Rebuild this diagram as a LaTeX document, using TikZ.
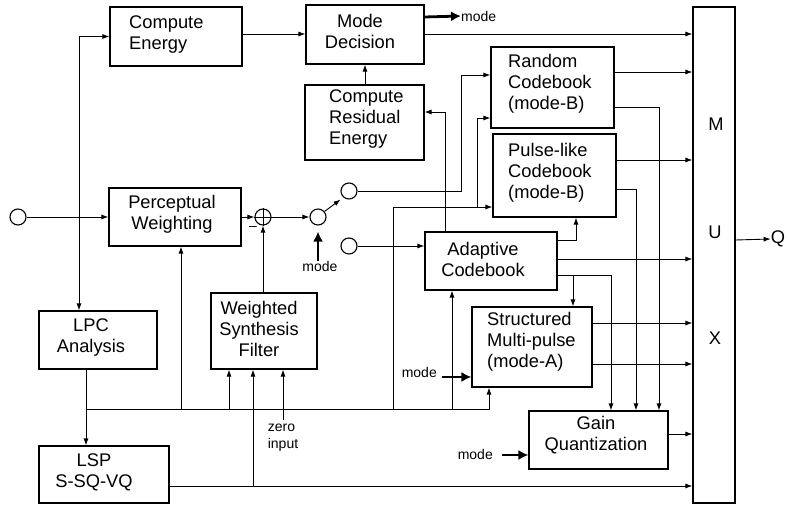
\documentclass[tikz,border=0pt]{standalone}
\usepackage{fontspec}
\setmainfont{Liberation Sans}
\usetikzlibrary{arrows.meta}
\begin{document}
\begin{tikzpicture}[x=1pt,y=-1pt,
  box/.style={draw, line width=1.1pt, inner sep=0pt},
  txt/.style={font=\fontsize{18.3}{21}\selectfont, inner sep=0pt},
  lbl/.style={font=\fontsize{14}{17}\selectfont, inner sep=0pt},
  port/.style={circle, draw, line width=1.1pt, minimum size=16pt, inner sep=0pt},
  wire/.style={line width=0.9pt},
  arr/.style={line width=0.9pt, -{Latex[length=7pt,width=5pt]}},
  modearr/.style={line width=2.8pt, -{Latex[length=10pt,width=10pt]}}]
\useasboundingbox (0,0) rectangle (789,505);

% ---- blocks ----
\node[box, minimum width=132pt, minimum height=59pt] (ce)  at (176,36.5) {};
\node[box, minimum width=118pt, minimum height=59pt] (md)  at (365,34.5) {};
\node[box, minimum width=119pt, minimum height=75pt] (cre) at (364.5,122.5) {};
\node[box, minimum width=123pt, minimum height=81pt] (rc)  at (552.5,87.5) {};
\node[box, minimum width=123pt, minimum height=83pt] (pc)  at (554.5,175.5) {};
\node[box, minimum width=132pt, minimum height=58pt] (ac)  at (491,261) {};
\node[box, minimum width=120pt, minimum height=80pt] (smp) at (532,347) {};
\node[box, minimum width=139pt, minimum height=58pt] (gq)  at (598.5,440) {};
\node[box, minimum width=42pt,  minimum height=496pt] (mux) at (714,255) {};
\node[box, minimum width=132pt, minimum height=58pt] (pw)  at (175,217) {};
\node[box, minimum width=106pt, minimum height=76pt] (wsf) at (264,331) {};
\node[box, minimum width=118pt, minimum height=58pt] (lpc) at (98,340) {};
\node[box, minimum width=130pt, minimum height=57pt] (lsp) at (104,474.5) {};

% ---- block texts ----
\node[txt, anchor=west, align=left]   (ce-t)  at (129,35)    {Compute\\Energy};
\node[txt, align=center]              (md-t)  at (360,31)    {Mode\\Decision};
\node[txt, anchor=west, align=left]   (cre-t) at (329,119.5) {Compute\\Residual\\Energy};
\node[txt, anchor=west, align=left]   (rc-t)  at (508,84)    {Random\\Codebook\\(mode-B)};
\node[txt, anchor=west, align=left]   (pc-t)  at (508,173)   {Pulse-like\\Codebook\\(mode-B)};
\node[txt, align=center]              (ac-t)  at (483,259)   {Adaptive\\Codebook};
\node[txt, anchor=west, align=left]   (smp-t) at (487,342)   {Structured\\Multi-pulse\\(mode-A)};
\node[txt, align=center]              (gq-t)  at (596,435)   {Gain\\Quantization};
\node[txt, align=center]              (pw-t)  at (172,214.5) {Perceptual\\Weighting};
\node[txt, align=center]              (wsf-t) at (259,328.5) {Weighted\\Synthesis\\Filter};
\node[txt, align=center]              (lpc-t) at (91,338)    {LPC\\Analysis};
\node[txt, align=center]              (lsp-t) at (94,472)    {LSP\\S-SQ-VQ};
\node[txt] (mux-m) at (716,124.5) {M};
\node[txt] (mux-u) at (715,232)   {U};
\node[txt] (mux-x) at (715,338.5) {X};
\node[txt] (q)     at (778,239)   {Q};

% ---- ports, adder, switch ----
\node[port] (in)  at (18,217)  {};
\node[port] (add) at (263,217) {};
\draw[wire] (add.north) -- (add.south) (add.west) -- (add.east);
\node[lbl] (minus) at (253,228) {\textendash};
\node[port] (pv)  at (318,217) {};
\node[port] (sw1) at (349,191) {};
\node[port] (sw2) at (349,246) {};
\draw[arr] (pv.40) -- ++(16,-12);

% ---- mode labels ----
\node[lbl, anchor=west] (md-mode)  at (461,16)  {mode};
\node[lbl]              (pv-mode)  at (320,266) {mode};
\node[lbl, anchor=east] (smp-mode) at (437,372) {mode};
\node[lbl, anchor=east] (gq-mode)  at (493,454) {mode};
\node[lbl, align=left]  (zi)       at (283,438) {zero\\input};

\draw[modearr] (md.east |- 0,17) -- (md-mode.west);
\draw[modearr] (pv-mode.north -| pv) -- ([yshift=-6pt]pv.south);
\draw[modearr] (442,377) -- (smp.west |- 0,377);
\draw[modearr] (502,455) -- (gq.west |- 0,455);

% ---- input side ----
\coordinate (j1) at (79,217);
\draw[arr] (in.east) -- (pw.west);
\draw[arr] (j1 |- ce.west) -- (ce.west) ;
\draw[wire] (j1 |- ce.west) -- (j1);
\draw[arr] (j1) -- (j1 |- lpc.north);
\draw[arr] (pw.east) -- (add.west);
\draw[arr] (add.east) -- (pv.west);
\draw[arr] (add.south |- wsf.north) -- (add.south);

% ---- energy / mode decision ----
\draw[arr] (ce.east |- 0,34) -- (md.west |- 0,34);
\draw[arr] (md.east |- 0,34) -- (mux.west |- 0,34);
\draw[arr] (cre.north -| md) -- (md.south);
\draw[arr] (ac.north -| 445,0) |- (cre.east |- 0,112);

% ---- switch outputs ----
\draw[arr] (sw1.east) -| (461,75) -- (rc.west |- 0,75);
\draw[arr] (sw2.east) -- (ac.west |- sw2.east);

% ---- LPC bus ----
\coordinate (b0) at (86,409);
\draw[arr] (lpc.south -| b0) -- (lsp.north -| b0);
\draw[arr] (b0) -| (smp.south -| 489,0);
\draw[arr] (181,409) -- (pw.south -| 181,0);
\draw[arr] (229,409) -- (wsf.south -| 229,0);
\draw[arr] (253,486) -- (wsf.south -| 253,0);
\draw[arr] (zi.north) ++(0,-4) -- (wsf.south -| zi.north);
\draw[arr] (393,409) -- (393,207) -- (pc.west |- 0,207);
\draw[arr] (477,207) |- (rc.west |- 0,118);
\draw[arr] (452,409) -- (ac.south -| 452,0);
\draw[arr] (lsp.east |- 0,486) -- (mux.west |- 0,486);

% ---- codebook outputs ----
\draw[arr] (ac.east |- 0,240) -| (pc.south -| 576,0);
\draw[arr] (ac.east |- 0,259) -- (mux.west |- 0,259);
\draw[arr] (ac.east |- 0,275) -| (gq.north -| 611,0);
\draw[arr] (573,275) -- (smp.north -| 573,0);
\draw[arr] (rc.east |- 0,72) -- (mux.west |- 0,72);
\draw[arr] (rc.east |- 0,107) -| (gq.north -| 659,0);
\draw[arr] (pc.east |- 0,160) -- (mux.west |- 0,160);
\draw[arr] (pc.east |- 0,189) -| (gq.north -| 636,0);
\draw[arr] (smp.east |- 0,323) -- (mux.west |- 0,323);
\draw[arr] (smp.east |- 0,364) -- (mux.west |- 0,364);
\draw[arr] (gq.east |- 0,434) -- (mux.west |- 0,434);
\draw[arr] (mux.east |- 0,240) -- (q.west);
\end{tikzpicture}
\end{document}
